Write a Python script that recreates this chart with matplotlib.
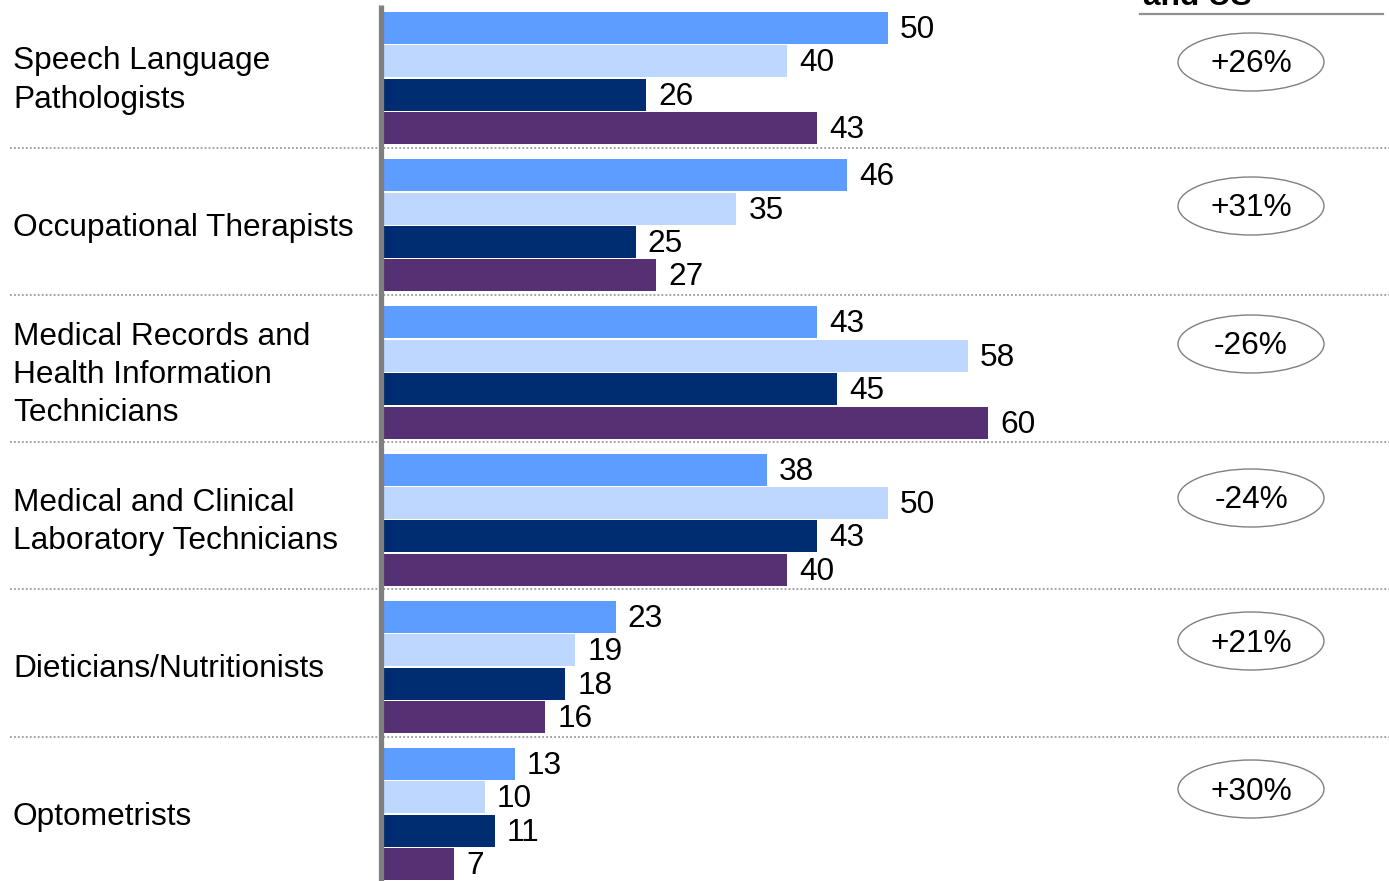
import matplotlib
matplotlib.use("Agg")
import matplotlib.pyplot as plt
from matplotlib.patches import Ellipse

categories = [
    "Speech Language\nPathologists",
    "Occupational Therapists",
    "Medical Records and\nHealth Information\nTechnicians",
    "Medical and Clinical\nLaboratory Technicians",
    "Dieticians/Nutritionists",
    "Optometrists",
]
series1 = [50, 46, 43, 38, 23, 13]
series2 = [40, 35, 58, 50, 19, 10]
series3 = [26, 25, 45, 43, 18, 11]
series4 = [43, 27, 60, 40, 16, 7]
changes = ["+26%", "+31%", "-26%", "-24%", "+21%", "+30%"]
header_text = "and US"

colors = ["#5C9DFF", "#BDD7FF", "#002D72", "#553174"]
series = [series1, series2, series3, series4]

W, H = 1389, 881
PX = 10.07            # pixels per unit
X0 = 384              # pixel of value 0
fig = plt.figure(figsize=(W / 100, H / 100), dpi=100)
ax = fig.add_axes([0, 0, 1, 1])
ax.set_xlim(-X0 / PX, (W - X0) / PX)
ax.set_ylim(H, 0)
ax.axis("off")

FAM = ["Liberation Sans", "DejaVu Sans"]
plt.rcParams["font.family"] = FAM
FS = 22.8

GROUP = 147.2
PITCH = 33.4
TOP = 28
BH = 32

for g, cat in enumerate(categories):
    for j, s in enumerate(series):
        yc = TOP + g * GROUP + j * PITCH
        ax.barh(yc, s[g], height=BH, color=colors[j], left=0, zorder=2)
        ax.text(s[g] + 1.2, yc + 2, str(s[g]), va="center", ha="left",
                fontsize=FS, family=FAM)
    gc = TOP + g * GROUP + 1.5 * PITCH
    ax.text(13 / PX - X0 / PX, gc + 2.5, cat, va="center", ha="left", fontsize=FS,
            linespacing=1.36, family=FAM)

# separators
for g in range(1, len(categories)):
    ysep = TOP + g * GROUP - 27.5
    ax.plot([(10 - X0) / PX, (W - X0) / PX], [ysep, ysep], color="#9A9A9A",
            lw=1.3, linestyle=(0, (1, 1.2)), zorder=1)

# axis line
ax.plot([-0.25, -0.25], [5, H], color="#808080", lw=3.8, zorder=3,
        solid_capstyle="butt")

# ellipses
ell_y = [62, 206, 344, 498, 641, 789]
ex = (1251 - X0) / PX
for ch, ey in zip(changes, ell_y):
    e = Ellipse((ex, ey), 146 / PX, 58, facecolor="none", edgecolor="#808080",
                lw=1.0, zorder=2)
    ax.add_patch(e)
    ax.text(ex, ey + 2.5, ch, ha="center", va="center", fontsize=FS, family=FAM)

# header fragment (cut off at the top edge, as in the reference)
ax.plot([(1140 - X0) / PX, (1383 - X0) / PX], [14, 14], color="#909090", lw=1.6)
ax.text((1143 - X0) / PX, 5, header_text, ha="left", va="baseline",
        fontsize=FS, fontweight="bold", family=FAM)

fig.savefig("out.png", dpi=100)
